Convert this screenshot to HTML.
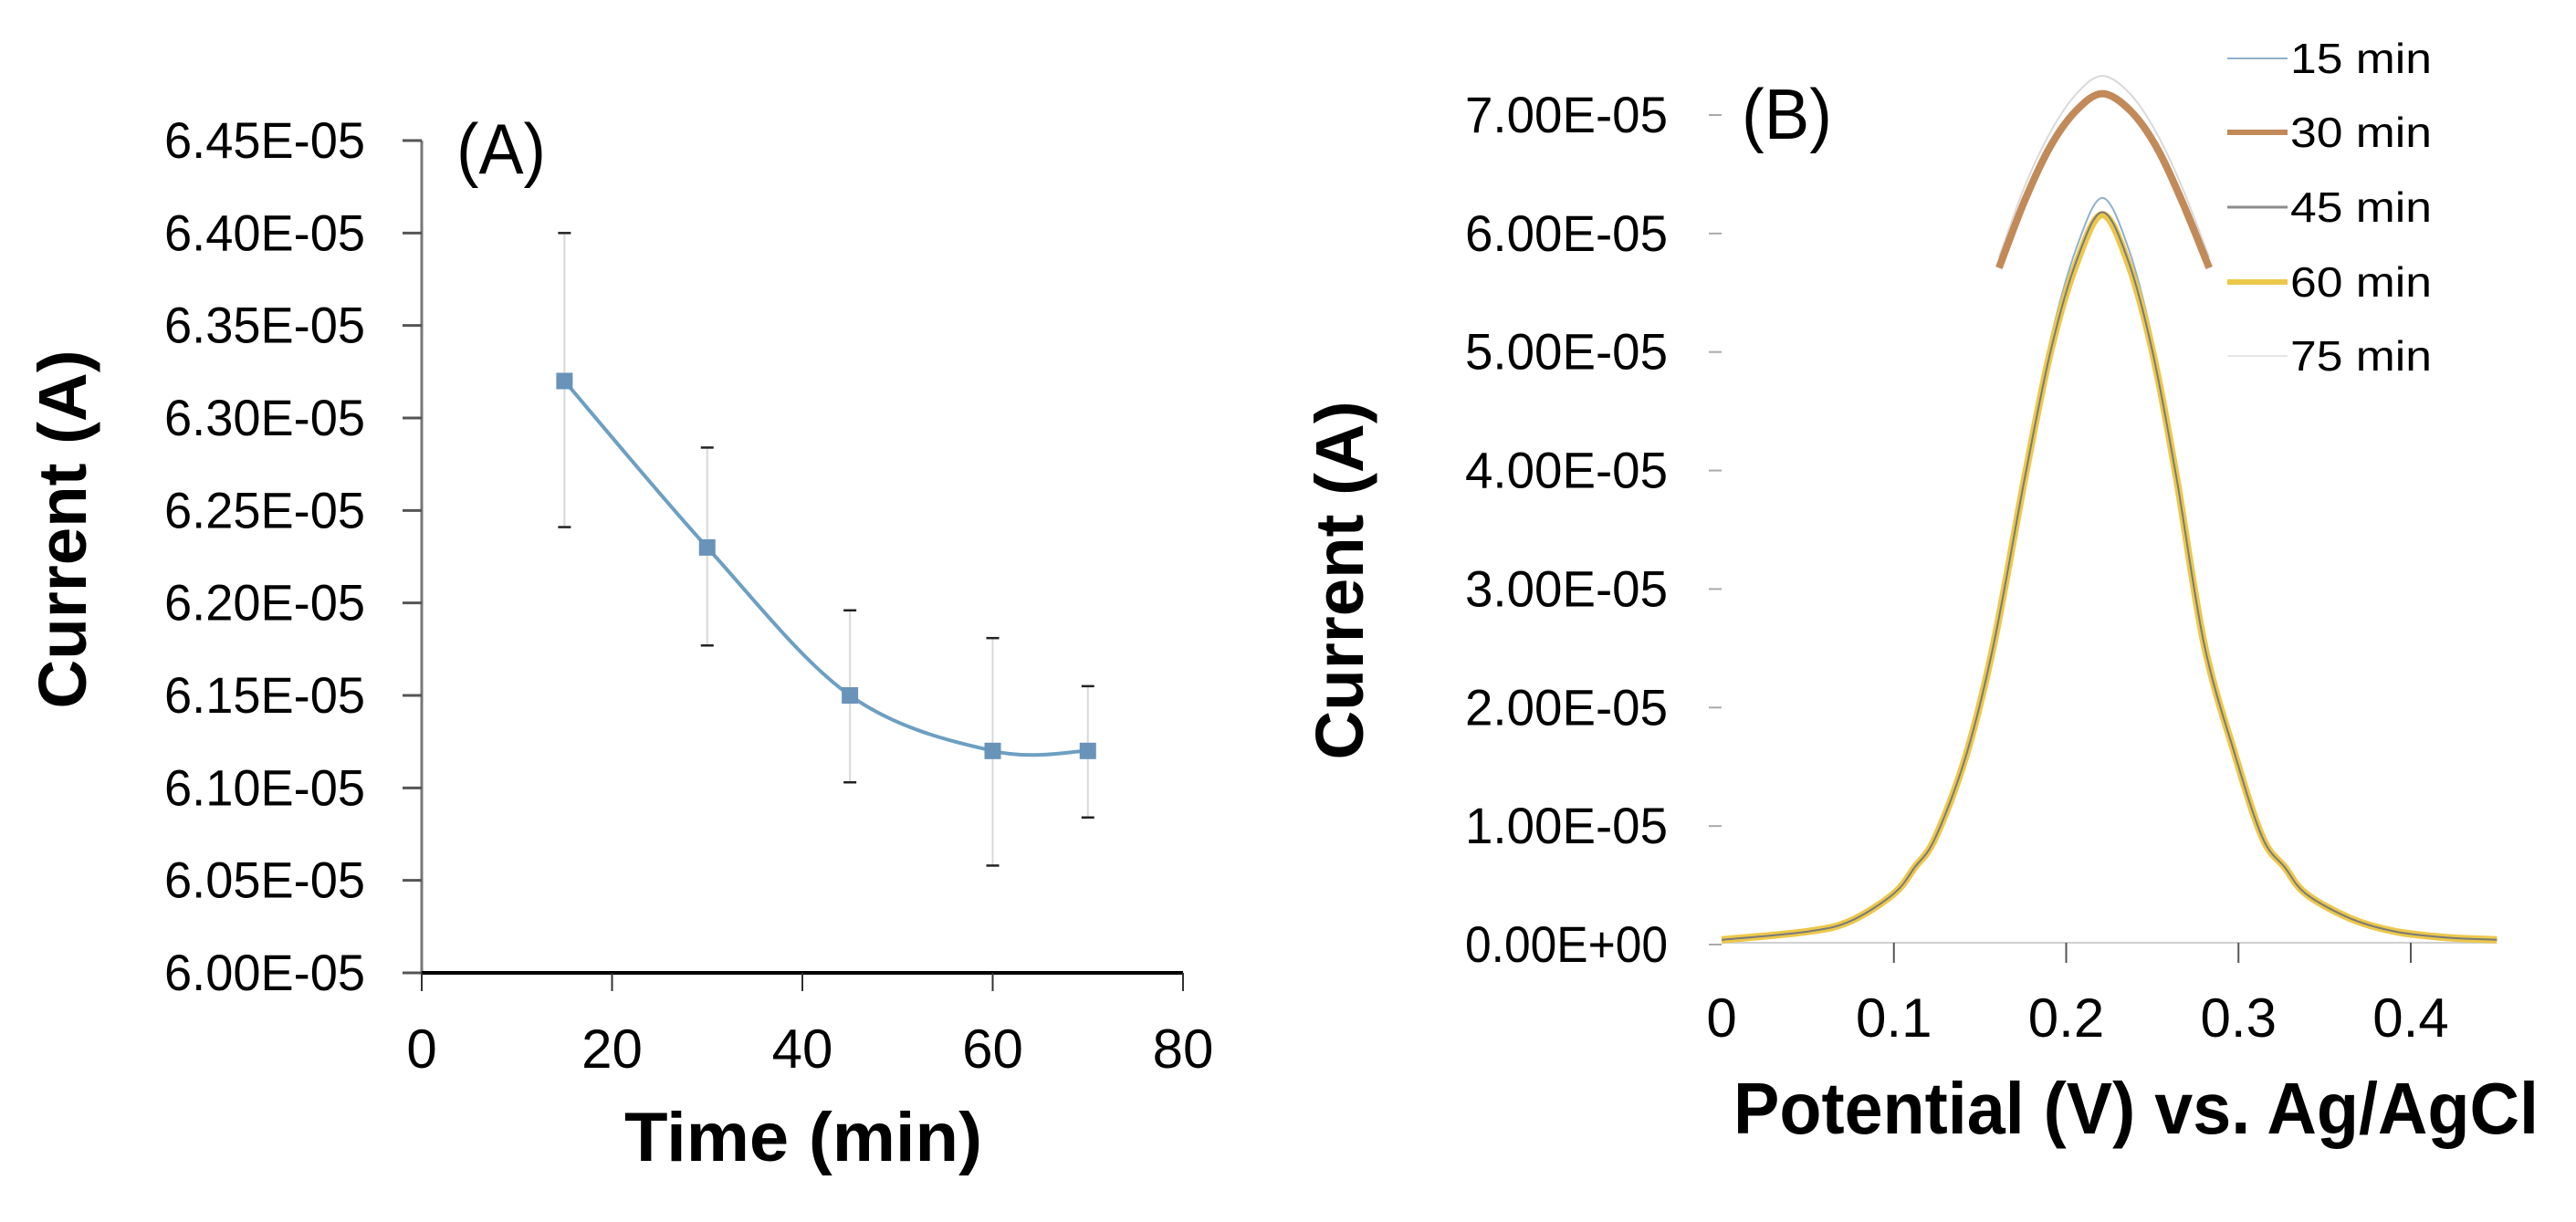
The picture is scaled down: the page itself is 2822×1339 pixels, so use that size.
<!DOCTYPE html>
<html><head><meta charset="utf-8"><style>
html,body{margin:0;padding:0;background:#fff;width:2822px;height:1339px;overflow:hidden}
svg text{font-family:"Liberation Sans Narrow","Liberation Sans",sans-serif;fill:#000}
</style></head><body>
<svg id="fig" width="2822" height="1339" viewBox="0 0 2822 1339" xmlns="http://www.w3.org/2000/svg">
<rect width="2822" height="1339" fill="#fff"/>
<g id="pa"></g>
<g id="pb"></g>
</svg>
<script>
// ---- Panel A data ----
const timesA = [15, 30, 45, 60, 70];
const currentA = [6.32, 6.23, 6.15, 6.12, 6.12];          // x1e-5 A
const errHighA = [6.40, 6.284, 6.196, 6.181, 6.155];
const errLowA = [6.241, 6.177, 6.103, 6.058, 6.084];
const yTicksA = [6.00, 6.05, 6.10, 6.15, 6.20, 6.25, 6.30, 6.35, 6.40, 6.45];
const yTickLabelsA = ["6.00E-05","6.05E-05","6.10E-05","6.15E-05","6.20E-05","6.25E-05","6.30E-05","6.35E-05","6.40E-05","6.45E-05"];
const xTicksA = [0, 20, 40, 60, 80];

// ---- Panel B data ----
const potFull = [0, 0.05, 0.075, 0.1, 0.112, 0.124, 0.142, 0.158, 0.176, 0.191, 0.206, 0.221, 0.236, 0.25, 0.264, 0.28, 0.298, 0.314, 0.327, 0.339, 0.365, 0.391, 0.42, 0.45];
const potArc = [0.161, 0.176, 0.191, 0.206, 0.221, 0.237, 0.252, 0.267, 0.283];
const s15 = [0.04, 0.11, 0.21, 0.44, 0.67, 0.92, 1.63, 2.59, 4.02, 5.11, 5.88, 6.30, 5.88, 5.11, 4.02, 2.59, 1.63, 0.92, 0.67, 0.44, 0.22, 0.11, 0.06, 0.04];
const s30 = [5.71, 6.28, 6.74, 7.04, 7.18, 7.04, 6.74, 6.28, 5.71];
const s45 = [0.04, 0.11, 0.20, 0.43, 0.65, 0.90, 1.60, 2.54, 3.94, 5.01, 5.77, 6.18, 5.77, 5.01, 3.94, 2.54, 1.60, 0.90, 0.65, 0.43, 0.22, 0.11, 0.06, 0.04];
const s60 = [0.04, 0.11, 0.20, 0.43, 0.65, 0.90, 1.60, 2.54, 3.94, 5.01, 5.75, 6.16, 5.75, 5.01, 3.94, 2.54, 1.60, 0.90, 0.65, 0.43, 0.22, 0.11, 0.06, 0.04];
const s75 = [5.80, 6.40, 6.86, 7.18, 7.33, 7.18, 6.86, 6.40, 5.80];
const legendLabels = ["15 min", "30 min", "45 min", "60 min", "75 min"];
const yTicksB = [0, 1, 2, 3, 4, 5, 6, 7];
const yTickLabelsB = ["0.00E+00","1.00E-05","2.00E-05","3.00E-05","4.00E-05","5.00E-05","6.00E-05","7.00E-05"];
const xTicksB = [0, 0.1, 0.2, 0.3, 0.4];
const xTickLabelsB = ["0", "0.1", "0.2", "0.3", "0.4"];

const NS = "http://www.w3.org/2000/svg";
function mk(parent, tag, attrs, txt) {
  const e = document.createElementNS(NS, tag);
  for (const k in attrs) e.setAttribute(k, attrs[k]);
  if (txt !== undefined) e.textContent = txt;
  parent.appendChild(e);
  return e;
}
function spline(pts) {
  let d = "M" + pts[0][0] + "," + pts[0][1];
  for (let i = 0; i < pts.length - 1; i++) {
    const p0 = pts[i - 1] || pts[i], p1 = pts[i], p2 = pts[i + 1], p3 = pts[i + 2] || p2;
    const c1x = p1[0] + (p2[0] - p0[0]) / 6, c1y = p1[1] + (p2[1] - p0[1]) / 6;
    const c2x = p2[0] - (p3[0] - p1[0]) / 6, c2y = p2[1] - (p3[1] - p1[1]) / 6;
    d += " C" + c1x + "," + c1y + " " + c2x + "," + c2y + " " + p2[0] + "," + p2[1];
  }
  return d;
}

// ===== Panel A =====
const pa = document.getElementById("pa");
const xA = v => 462 + (v - 0) * (1296 - 462) / 80;
const yA = v => 1066 - (v - 6.00) * (1066 - 154) / 0.45;
let e;
e = mk(pa, "line", {x1: 462, y1: yA(6.45), x2: 462, y2: 1066, stroke: "#777", "stroke-width": 3});
 
yTicksA.forEach((v, i) => {
  const t = mk(pa, "line", {x1: 441, y1: yA(v), x2: 462, y2: yA(v), stroke: "#555", "stroke-width": 3});
   
  const l = mk(pa, "text", {x: 400, y: yA(v) + 19, "text-anchor": "end", "font-size": 56, textLength: 220, lengthAdjust: "spacingAndGlyphs"}, yTickLabelsA[i]);
   
});
e = mk(pa, "line", {x1: 462, y1: 1066, x2: 1296, y2: 1066, stroke: "#000", "stroke-width": 4});
 
xTicksA.forEach(v => {
  const t = mk(pa, "line", {x1: xA(v), y1: 1066, x2: xA(v), y2: 1086, stroke: "#333", "stroke-width": 2});
   
  const l = mk(pa, "text", {x: xA(v), y: 1170, "text-anchor": "middle", "font-size": 60}, String(v));
   
});
timesA.forEach((t, i) => {
  const b = mk(pa, "line", {x1: xA(t), y1: yA(errHighA[i]), x2: xA(t), y2: yA(errLowA[i]), stroke: "#d8d8d8", "stroke-width": 2});
   
  [errHighA[i], errLowA[i]].forEach(v => {
    const c = mk(pa, "line", {x1: xA(t) - 7, y1: yA(v), x2: xA(t) + 7, y2: yA(v), stroke: "#222", "stroke-width": 2.5});
     
  });
});
e = mk(pa, "path", {d: spline(timesA.map((t, i) => [xA(t), yA(currentA[i])])), fill: "none", stroke: "#6d9fc2", "stroke-width": 4});
 
timesA.forEach((t, i) => {
  const m = mk(pa, "rect", {x: xA(t) - 9, y: yA(currentA[i]) - 9, width: 18, height: 18, fill: "#6993b8"});
   
});
e = mk(pa, "text", {x: 500, y: 190, "font-size": 78, textLength: 98, lengthAdjust: "spacingAndGlyphs"}, "(A)");
 
e = mk(pa, "text", {x: 880, y: 1272, "text-anchor": "middle", "font-size": 76, "font-weight": "bold", textLength: 392, lengthAdjust: "spacingAndGlyphs"}, "Time (min)");
 
e = mk(pa, "text", {x: 0, y: 0, "text-anchor": "middle", "font-size": 74, "font-weight": "bold", transform: "translate(94,580) rotate(-90)", textLength: 393, lengthAdjust: "spacingAndGlyphs", style: "font-family:'Liberation Sans',sans-serif"}, "Current (A)");
 

// ===== Panel B =====
const pb = document.getElementById("pb");
const xB = v => 1886 + v * (2641 - 1886) / 0.4;
const yB = v => 1035 - v * (1035 - 126) / 7;
yTicksB.forEach((v, i) => {
  const t = mk(pb, "line", {x1: 1872, y1: yB(v), x2: 1886, y2: yB(v), stroke: "#aaa", "stroke-width": 2});
   
  const l = mk(pb, "text", {x: 1827, y: yB(v) + 19, "text-anchor": "end", "font-size": 56, textLength: 222, lengthAdjust: "spacingAndGlyphs"}, yTickLabelsB[i]);
   
});
e = mk(pb, "line", {x1: xB(0), y1: 1033, x2: xB(0.45), y2: 1033, stroke: "#d0d0d0", "stroke-width": 2});
 
xTicksB.forEach((v, i) => {
  if (v > 0) {
    const t = mk(pb, "line", {x1: xB(v), y1: 1033, x2: xB(v), y2: 1055, stroke: "#555", "stroke-width": 2});
     
  }
  const l = mk(pb, "text", {x: xB(v), y: 1136, "text-anchor": "middle", "font-size": 60}, xTickLabelsB[i]);
   
});
const seriesB = [
  {vals: s75, xs: potArc, color: "#d9d9d9", w: 2, name: "series-75-min"},
  {vals: s30, xs: potArc, color: "#c28a58", w: 8, name: "series-30-min"},
  {vals: s15, xs: potFull, color: "#8fb0cc", w: 2, name: "series-15-min"},
  {vals: s60, xs: potFull, color: "#ecc84a", w: 8, name: "series-60-min"},
  {vals: s45, xs: potFull, color: "#7a7a7a", w: 2, name: "series-45-min"}
];
seriesB.forEach(s => {
  const p = mk(pb, "path", {d: spline(s.xs.map((x, i) => [xB(x), yB(s.vals[i])])), fill: "none", stroke: s.color, "stroke-width": s.w});
   
});
const legColors = ["#8fb0cc", "#c28a58", "#8c8c8c", "#ecc84a", "#e6e6e6"];
const legW = [2, 6, 3, 6, 2];
const legY = [64, 145, 227, 309, 390];
legendLabels.forEach((lab, i) => {
  const g = mk(pb, "g", {});
   
  mk(g, "line", {x1: 2440, y1: legY[i], x2: 2506, y2: legY[i], stroke: legColors[i], "stroke-width": legW[i]});
  mk(g, "text", {x: 2509, y: legY[i] + 16, "font-size": 46, textLength: 155, lengthAdjust: "spacingAndGlyphs"}, lab);
});
e = mk(pb, "text", {x: 1908, y: 152, "font-size": 78, textLength: 99, lengthAdjust: "spacingAndGlyphs"}, "(B)");
 
e = mk(pb, "text", {x: 2340, y: 1242, "text-anchor": "middle", "font-size": 80, "font-weight": "bold", textLength: 882, lengthAdjust: "spacingAndGlyphs"}, "Potential (V) vs. Ag/AgCl");
 
e = mk(pb, "text", {x: 0, y: 0, "text-anchor": "middle", "font-size": 74, "font-weight": "bold", transform: "translate(1493,636) rotate(-90)", textLength: 393, lengthAdjust: "spacingAndGlyphs", style: "font-family:'Liberation Sans',sans-serif"}, "Current (A)");
 
</script>
</body></html>
